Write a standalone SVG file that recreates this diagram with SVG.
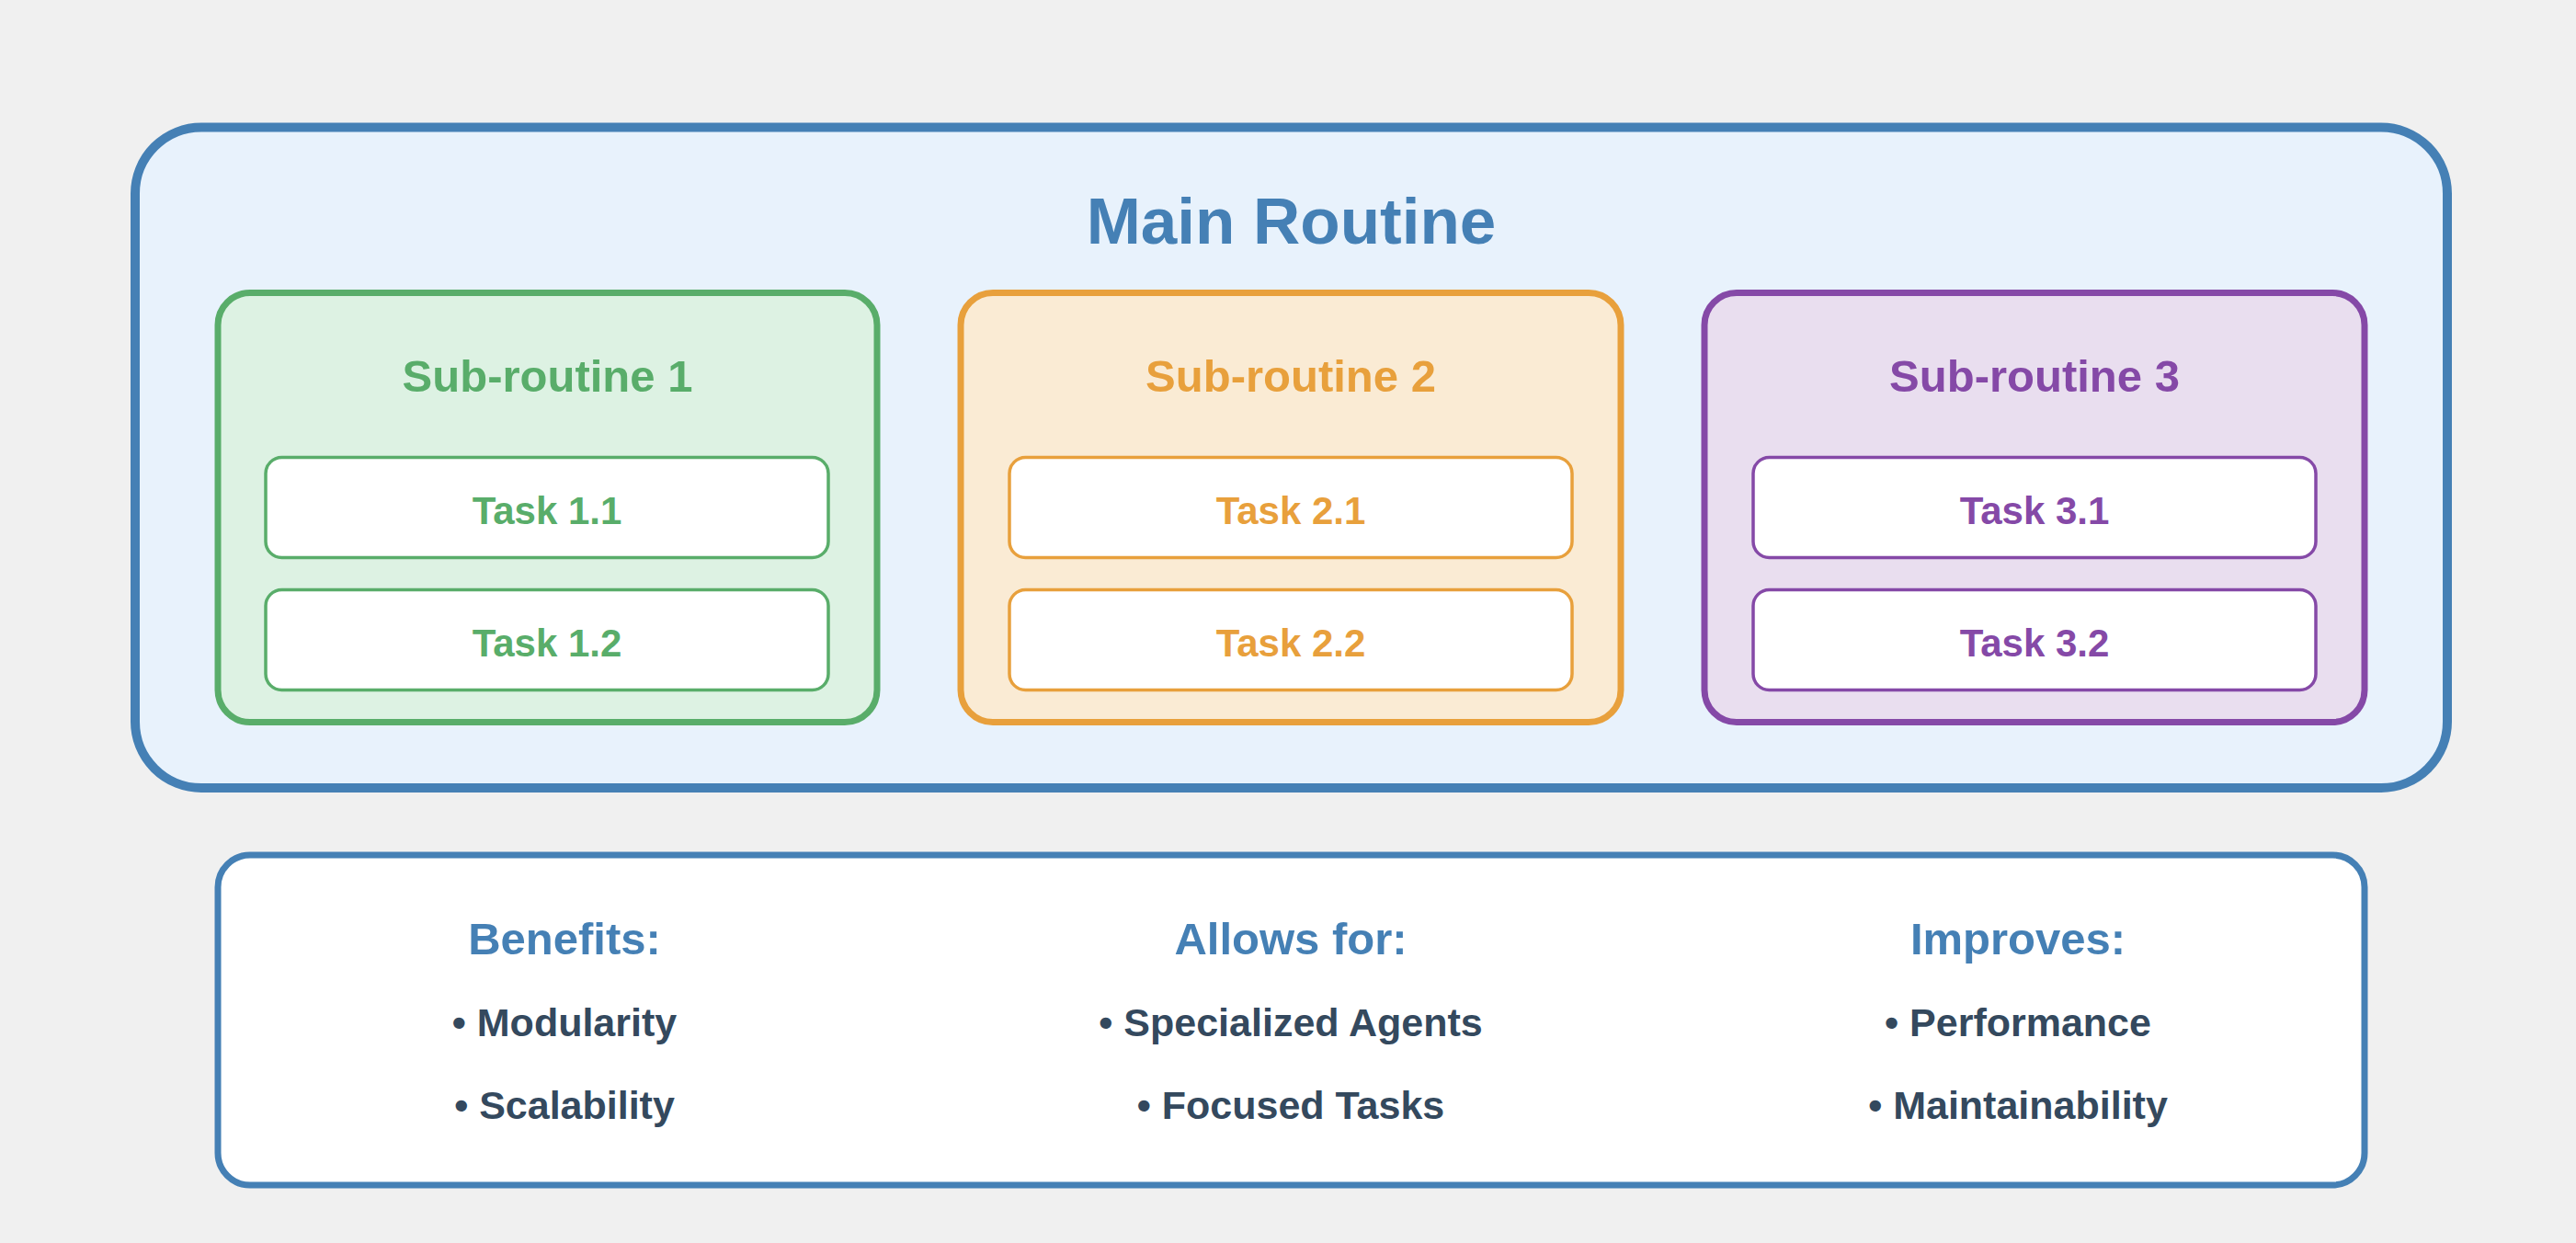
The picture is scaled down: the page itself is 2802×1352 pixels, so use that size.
<svg xmlns="http://www.w3.org/2000/svg" width="2802" height="1352" viewBox="0 0 2802 1352">
<style>
text { font-family: "Liberation Sans", Arial, Helvetica, sans-serif; font-weight: bold; text-anchor: middle; }
.title { font-size: 71px; fill: #4580B5; }
.sub { font-size: 49px; }
.task { font-size: 42px; }
.head { font-size: 49px; fill: #4580B5; }
.item { font-size: 43px; fill: #34495E; }
.g { fill: #59AD6A; } .o { fill: #E8A03C; } .p { fill: #8549A7; }
.gbox { fill: #DDF2E3; stroke: #59AD6A; stroke-width: 7; }
.obox { fill: #FAEBD4; stroke: #E8A03C; stroke-width: 7; }
.pbox { fill: #E9DEEF; stroke: #8549A7; stroke-width: 7; }
.gt { fill: #FFFFFF; stroke: #59AD6A; stroke-width: 3.5; }
.ot { fill: #FFFFFF; stroke: #E8A03C; stroke-width: 3.5; }
.pt { fill: #FFFFFF; stroke: #8549A7; stroke-width: 3.5; }
</style>
<rect x="0" y="0" width="2802" height="1352" fill="#F0F0F0"/>
<g id="main-routine">
<rect x="147" y="138.5" width="2515" height="718.5" rx="72" ry="72" fill="#E8F2FC" stroke="#4580B5" stroke-width="10"/>
<text class="title" x="1404.5" y="265">Main Routine</text>
</g>
<g id="sub-routine-1">
<rect class="gbox" x="237" y="318.5" width="717" height="467" rx="35" ry="35"/>
<text class="sub g" x="595.5" y="426">Sub-routine 1</text>
</g>
<g id="task-1-1">
<rect class="gt" x="289" y="497.5" width="612" height="109" rx="17.5" ry="17.5"/>
<text class="task g" x="595" y="570">Task 1.1</text>
</g>
<g id="task-1-2">
<rect class="gt" x="289" y="641.5" width="612" height="109" rx="17.5" ry="17.5"/>
<text class="task g" x="595" y="714">Task 1.2</text>
</g>
<g id="sub-routine-2">
<rect class="obox" x="1045" y="318.5" width="718" height="467" rx="35" ry="35"/>
<text class="sub o" x="1404" y="426">Sub-routine 2</text>
</g>
<g id="task-2-1">
<rect class="ot" x="1098" y="497.5" width="612" height="109" rx="17.5" ry="17.5"/>
<text class="task o" x="1404" y="570">Task 2.1</text>
</g>
<g id="task-2-2">
<rect class="ot" x="1098" y="641.5" width="612" height="109" rx="17.5" ry="17.5"/>
<text class="task o" x="1404" y="714">Task 2.2</text>
</g>
<g id="sub-routine-3">
<rect class="pbox" x="1854" y="318.5" width="718" height="467" rx="35" ry="35"/>
<text class="sub p" x="2213" y="426">Sub-routine 3</text>
</g>
<g id="task-3-1">
<rect class="pt" x="1907" y="497.5" width="612" height="109" rx="17.5" ry="17.5"/>
<text class="task p" x="2213" y="570">Task 3.1</text>
</g>
<g id="task-3-2">
<rect class="pt" x="1907" y="641.5" width="612" height="109" rx="17.5" ry="17.5"/>
<text class="task p" x="2213" y="714">Task 3.2</text>
</g>
<g id="summary">
<rect x="237" y="930" width="2335" height="359" rx="35" ry="35" fill="#FFFFFF" stroke="#4580B5" stroke-width="7"/>
<text class="head" x="614" y="1038">Benefits:</text>
<text class="item" x="614" y="1127">• Modularity</text>
<text class="item" x="614" y="1217">• Scalability</text>
<text class="head" x="1404" y="1038">Allows for:</text>
<text class="item" x="1404" y="1127">• Specialized Agents</text>
<text class="item" x="1404" y="1217">• Focused Tasks</text>
<text class="head" x="2195" y="1038">Improves:</text>
<text class="item" x="2195" y="1127">• Performance</text>
<text class="item" x="2195" y="1217">• Maintainability</text>
</g>
<g id="connectors"></g>
</svg>
